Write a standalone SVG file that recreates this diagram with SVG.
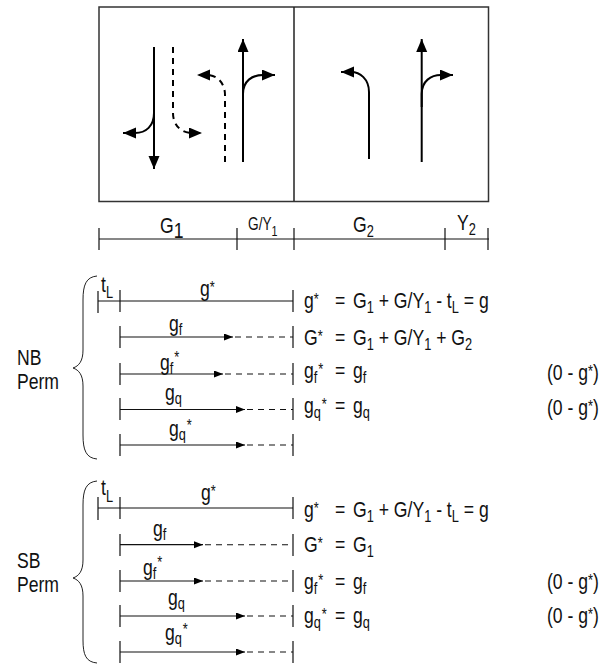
<svg xmlns="http://www.w3.org/2000/svg" width="604" height="665" viewBox="0 0 604 665">
<style>
text{font-family:"Liberation Sans",Arial,sans-serif;font-size:22px;fill:#111}
.s{font-size:16px}
.st{font-size:16px}
.l{fill:none;stroke:#111;stroke-width:1.2}
.b{fill:none;stroke:#222;stroke-width:1}
.a{fill:none;stroke:#000;stroke-width:2}
.d{stroke-dasharray:6 5}
.dl{fill:none;stroke:#111;stroke-width:1.1;stroke-dasharray:6 5}
</style>
<defs>
<marker id="big" markerUnits="userSpaceOnUse" markerWidth="14" markerHeight="12" refX="13" refY="5.500" orient="auto"><path d="M0 0L13 5.500L0 11Z" fill="#000"/></marker>
<marker id="sm" markerUnits="userSpaceOnUse" markerWidth="10" markerHeight="8" refX="9" refY="3.500" orient="auto"><path d="M0 0L9 3.500L0 7Z" fill="#000"/></marker>
</defs>
<g id="signal-box">
<rect x="99" y="7" width="389.500" height="194.500" fill="none" stroke="#333" stroke-width="1.500"/>
<path d="M294 7V201" fill="none" stroke="#222" stroke-width="1.500"/>
</g>
<g id="movements">
<path class="a" d="M154 47V169" marker-end="url(#big)"/>
<path class="a" d="M154 100V113C154 126 146 133 135 133H123" marker-end="url(#big)"/>
<path class="a d" d="M173 47V113C173 126 182 133 192 133H202" marker-end="url(#big)"/>
<path class="a d" d="M225 162V95C225 82 216 75 207 75H197" marker-end="url(#big)"/>
<path class="a" d="M243 162V39" marker-end="url(#big)"/>
<path class="a" d="M243 107V94C243 81 252 75 263 75H275" marker-end="url(#big)"/>
<path class="a" d="M369 159V92C369 79 360 72 351 72H341" marker-end="url(#big)"/>
<path class="a" d="M421.700 162V39" marker-end="url(#big)"/>
<path class="a" d="M421.700 107V94C421.700 81 431 75 441 75H453" marker-end="url(#big)"/>
</g>
<g id="timeline">
<path class="l" d="M99 239H489M99 228V250M237 228V250M294 228V250M445 228V250M488 228V250"/>
<text transform="translate(160 233) scale(.8 1)">G<tspan class="s" style="font-size:22px" dy="5">1</tspan></text>
<text transform="translate(248 230) scale(.72 1)" style="font-size:19px">G/Y<tspan style="font-size:15px" dy="6">1</tspan></text>
<text transform="translate(353 232) scale(.8 1)">G<tspan class="s" dy="5">2</tspan></text>
<text transform="translate(457 230) scale(.8 1)">Y<tspan class="s" dy="5">2</tspan></text>
</g>
<g id="nb-perm">
<path class="b" d="M97 276C86 277 83 285 83 300V350C83 361 79 366 73 368C79 370 83 375 83 386V435C83 450 86 458 97 459"/>
<text transform="translate(17 365) scale(.8 1)">NB</text><text transform="translate(17 389) scale(.8 1)">Perm</text>
<path class="l" d="M98 291V313M98 301H293M120 290V312M293 290V312"/>
<text transform="translate(101 292) scale(.8 1)">t<tspan class="s" dy="6">L</tspan></text>
<text transform="translate(200 296) scale(.8 1)">g<tspan class="st" dy="-3">*</tspan></text>
<path class="l" d="M120 326V348M293 326V348M120 337H233" marker-end="url(#sm)"/><path class="dl" d="M235 337H293"/>
<text transform="translate(169 331) scale(.8 1)">g<tspan class="s" dy="4">f</tspan></text>
<path class="l" d="M120 363V385M293 363V385M120 374H223" marker-end="url(#sm)"/><path class="dl" d="M225 374H293"/>
<text transform="translate(160 370) scale(.8 1)">g<tspan class="s" dy="4">f</tspan><tspan class="st" dx="1" dy="-11">*</tspan></text>
<path class="l" d="M120 398V420M293 398V420M120 409.500H245" marker-end="url(#sm)"/><path class="dl" d="M247 409.500H293"/>
<text transform="translate(165 400) scale(.8 1)">g<tspan class="s" dy="4">q</tspan></text>
<path class="l" d="M120 434V456M293 434V456M120 445H245" marker-end="url(#sm)"/><path class="dl" d="M247 445H293"/>
<text transform="translate(169 436) scale(.8 1)">g<tspan class="s" dy="4">q</tspan><tspan class="st" dx="1" dy="-9">*</tspan></text>
<text transform="translate(304 308) scale(.8 1)">g<tspan class="st" dy="-3">*</tspan></text><text transform="translate(335 308) scale(.8 1)">=</text>
<text transform="translate(353 308) scale(.8 1)">G<tspan class="s" dy="5">1</tspan><tspan dy="-5"> + G/Y</tspan><tspan class="s" dy="5">1</tspan><tspan dy="-5"> - t</tspan><tspan class="s" dy="5">L</tspan><tspan dy="-5"> = g</tspan></text>
<text transform="translate(304 345) scale(.8 1)">G<tspan class="st" dy="-3">*</tspan></text><text transform="translate(335 345) scale(.8 1)">=</text>
<text transform="translate(353 345) scale(.8 1)">G<tspan class="s" dy="5">1</tspan><tspan dy="-5"> + G/Y</tspan><tspan class="s" dy="5">1</tspan><tspan dy="-5"> + G</tspan><tspan class="s" dy="5">2</tspan></text>
<text transform="translate(304 378) scale(.8 1)">g<tspan class="s" dy="5">f</tspan><tspan class="st" dx="1" dy="-8">*</tspan></text><text transform="translate(335 378) scale(.8 1)">=</text><text transform="translate(353 378) scale(.8 1)">g<tspan class="s" dy="5">f</tspan></text>
<text transform="translate(304 413) scale(.8 1)">g<tspan class="s" dy="5">q</tspan><tspan class="st" dx="1" dy="-8">*</tspan></text><text transform="translate(335 413) scale(.8 1)">=</text><text transform="translate(353 413) scale(.8 1)">g<tspan class="s" dy="5">q</tspan></text>
<text transform="translate(547 380) scale(.8 1)">(0 - g<tspan class="st" dy="-3">*</tspan><tspan dy="3">)</tspan></text>
<text transform="translate(547 415) scale(.8 1)">(0 - g<tspan class="st" dy="-3">*</tspan><tspan dy="3">)</tspan></text>
</g>
<g id="sb-perm">
<path class="b" d="M97 481C86 482 83 490 83 505V560C83 571 79 576 73 578C79 580 83 585 83 596V640C83 655 86 662 97 663"/>
<text transform="translate(17 568) scale(.8 1)">SB</text><text transform="translate(17 592) scale(.8 1)">Perm</text>
<path class="l" d="M98 497V520M98 508H293M120 497V519M293 497V519"/>
<text transform="translate(101 495) scale(.8 1)">t<tspan class="s" dy="7">L</tspan></text>
<text transform="translate(201 500) scale(.8 1)">g<tspan class="st" dy="-3">*</tspan></text>
<path class="l" d="M120 534V556M293 534V556M120 544.700H203" marker-end="url(#sm)"/><path class="dl" d="M205 544.700H293"/>
<text transform="translate(153 536) scale(.8 1)">g<tspan class="s" dy="4">f</tspan></text>
<path class="l" d="M120 570V592M293 570V592M120 581H203" marker-end="url(#sm)"/><path class="dl" d="M205 581H293"/>
<text transform="translate(143 575) scale(.8 1)">g<tspan class="s" dy="4">f</tspan><tspan class="st" dx="1" dy="-11">*</tspan></text>
<path class="l" d="M120 605V627M293 605V627M120 616H245" marker-end="url(#sm)"/><path class="dl" d="M247 616H293"/>
<text transform="translate(168 605) scale(.8 1)">g<tspan class="s" dy="4">q</tspan></text>
<path class="l" d="M120 641V663M293 641V663M120 652H245" marker-end="url(#sm)"/><path class="dl" d="M247 652H293"/>
<text transform="translate(165 640) scale(.8 1)">g<tspan class="s" dy="4">q</tspan><tspan class="st" dx="1" dy="-9">*</tspan></text>
<text transform="translate(304 517) scale(.8 1)">g<tspan class="st" dy="-3">*</tspan></text><text transform="translate(335 517) scale(.8 1)">=</text>
<text transform="translate(353 517) scale(.8 1)">G<tspan class="s" dy="5">1</tspan><tspan dy="-5"> + G/Y</tspan><tspan class="s" dy="5">1</tspan><tspan dy="-5"> - t</tspan><tspan class="s" dy="5">L</tspan><tspan dy="-5"> = g</tspan></text>
<text transform="translate(304 552) scale(.8 1)">G<tspan class="st" dy="-3">*</tspan></text><text transform="translate(335 552) scale(.8 1)">=</text>
<text transform="translate(353 552) scale(.8 1)">G<tspan class="s" dy="5">1</tspan></text>
<text transform="translate(304 589) scale(.8 1)">g<tspan class="s" dy="5">f</tspan><tspan class="st" dx="1" dy="-8">*</tspan></text><text transform="translate(335 589) scale(.8 1)">=</text><text transform="translate(353 589) scale(.8 1)">g<tspan class="s" dy="5">f</tspan></text>
<text transform="translate(304 623) scale(.8 1)">g<tspan class="s" dy="5">q</tspan><tspan class="st" dx="1" dy="-8">*</tspan></text><text transform="translate(335 623) scale(.8 1)">=</text><text transform="translate(353 623) scale(.8 1)">g<tspan class="s" dy="5">q</tspan></text>
<text transform="translate(547 589) scale(.8 1)">(0 - g<tspan class="st" dy="-3">*</tspan><tspan dy="3">)</tspan></text>
<text transform="translate(547 623) scale(.8 1)">(0 - g<tspan class="st" dy="-3">*</tspan><tspan dy="3">)</tspan></text>
</g>
</svg>
